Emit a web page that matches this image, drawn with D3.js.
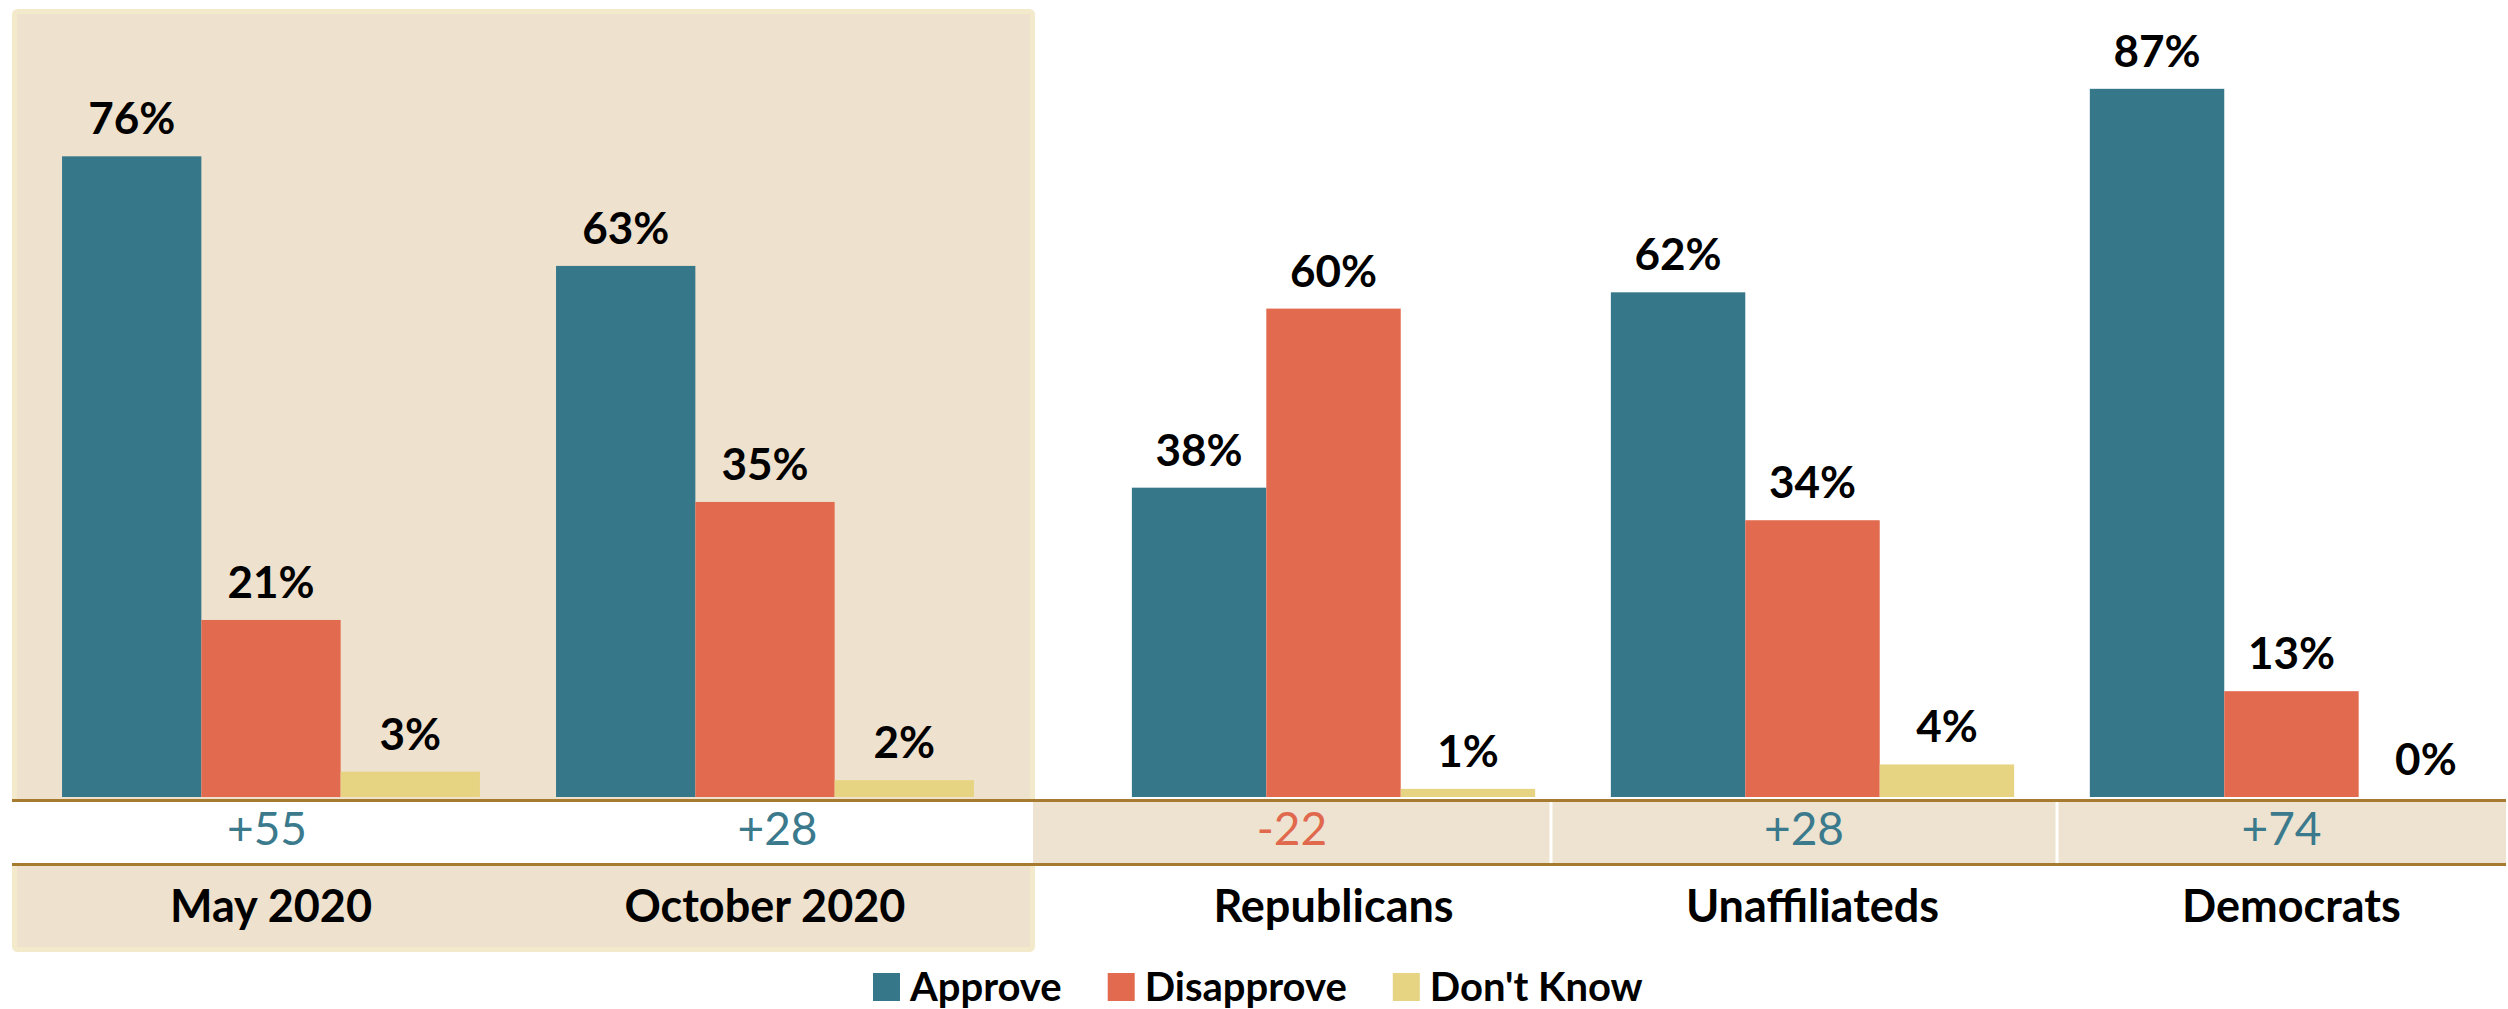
<!DOCTYPE html>
<html>
<head>
<meta charset="utf-8">
<script src="https://cdn.jsdelivr.net/npm/d3@7"></script>
<style>
  html, body { margin: 0; padding: 0; background: #ffffff; }
  svg { display: block; font-family: Lato, "Open Sans", sans-serif; }
</style>
</head>
<body>
<svg id="chart" width="2508" height="1009"></svg>
<script>
// ---- data ----
const categories = ["May 2020", "October 2020", "Republicans", "Unaffiliateds", "Democrats"];
const leftCategories = ["May 2020", "October 2020"];
const rightCategories = ["Republicans", "Unaffiliateds", "Democrats"];
const seriesNames = ["Approve", "Disapprove", "Don't Know"];
const approve = [76, 63, 38, 62, 87];
const disapprove = [21, 35, 60, 34, 13];
const dontKnow = [3, 2, 1, 4, 0];

// ---- style / layout ----
const colors = { "Approve": "#37778A", "Disapprove": "#E26A4E", "Don't Know": "#E7D483" };
const netPos = "#3A7A8C", netNeg = "#E0684D";
const lineColor = "#A67B2F";
const baseline = 797;

const svg = d3.select("#chart");

const rows = categories.map((c, i) => ({
  cat: c,
  values: [
    { s: "Approve", v: approve[i] },
    { s: "Disapprove", v: disapprove[i] },
    { s: "Don't Know", v: dontKnow[i] }
  ],
  net: approve[i] - disapprove[i]
}));

// left (time) panel background
svg.append("rect")
  .attr("x", 14.5).attr("y", 11.5).attr("width", 1018).attr("height", 938)
  .attr("rx", 3)
  .attr("fill", "#EEE1CD").attr("stroke", "#F3EACB").attr("stroke-width", 5);

// scales
const xLeft = d3.scaleBand().domain(leftCategories).range([24, 1012]).paddingInner(0.154).paddingOuter(0.077);
const xRight = d3.scaleBand().domain(rightCategories).range([1095, 2530]).paddingInner(0.158).paddingOuter(0.077);
const yLeft = d3.scaleLinear().domain([0, 90]).range([baseline, baseline - 90 * 8.43]);
const yRight = d3.scaleLinear().domain([0, 90]).range([baseline, baseline - 90 * 8.14]);

function drawGroup(x, y, cats) {
  const xs = d3.scaleBand().domain(seriesNames).range([0, x.bandwidth()]);
  const g = svg.append("g");
  const grp = g.selectAll("g.grp").data(rows.filter(r => cats.includes(r.cat))).join("g")
    .attr("transform", d => `translate(${x(d.cat)},0)`);
  grp.selectAll("rect").data(d => d.values).join("rect")
    .attr("x", d => xs(d.s))
    .attr("y", d => y(d.v))
    .attr("width", xs.bandwidth())
    .attr("height", d => y(0) - y(d.v))
    .attr("fill", d => colors[d.s]);
  grp.selectAll("text.val").data(d => d.values).join("text")
    .attr("class", "val")
    .attr("x", d => xs(d.s) + xs.bandwidth() / 2)
    .attr("y", d => y(d.v) - 22)
    .attr("text-anchor", "middle")
    .attr("font-size", 44).attr("font-weight", 700).attr("fill", "#000")
    .text(d => d.v + "%");
  // category labels
  g.selectAll("text.cat").data(cats).join("text")
    .attr("class", "cat")
    .attr("x", d => x(d) + x.bandwidth() / 2)
    .attr("y", 922)
    .attr("text-anchor", "middle")
    .attr("font-size", 45).attr("font-weight", 700).attr("fill", "#000")
    .text(d => d);
}
drawGroup(xLeft, yLeft, leftCategories);
drawGroup(xRight, yRight, rightCategories);

// net-difference table row
const cellEdges = [12, 522, 1033, 1551, 2057, 2506];
const cells = rows.map((r, i) => ({ ...r, x0: cellEdges[i], x1: cellEdges[i + 1], i }));
svg.append("g").selectAll("rect").data(cells).join("rect")
  .attr("x", d => d.x0)
  .attr("y", 801)
  .attr("width", d => d.x1 - d.x0)
  .attr("height", 63)
  .attr("fill", d => d.i < 2 ? "#FFFFFF" : "#EDE3D0");
// white separators for right cells
svg.append("g").selectAll("line").data([1551, 2057]).join("line")
  .attr("x1", d => d).attr("x2", d => d).attr("y1", 801).attr("y2", 864)
  .attr("stroke", "#FFFFFF").attr("stroke-width", 3);
svg.append("g").selectAll("text").data(cells).join("text")
  .attr("x", d => (d.x0 + d.x1) / 2)
  .attr("y", 845)
  .attr("text-anchor", "middle")
  .attr("font-size", 46)
  .attr("fill", d => d.net >= 0 ? netPos : netNeg)
  .text(d => (d.net >= 0 ? "+" : "") + d.net);
svg.append("g").selectAll("line").data([800.5, 864.5]).join("line")
  .attr("x1", 12).attr("x2", 2506).attr("y1", d => d).attr("y2", d => d)
  .attr("stroke", lineColor).attr("stroke-width", 3);

// legend
const legend = svg.append("g");
let lx = 873;
seriesNames.forEach(s => {
  legend.append("rect").attr("x", lx).attr("y", 973).attr("width", 27).attr("height", 28).attr("fill", colors[s]);
  const t = legend.append("text").attr("x", lx + 37).attr("y", 1001)
    .attr("font-size", 40).attr("font-weight", 700).attr("fill", "#000").text(s);
  lx += 37 + t.node().getComputedTextLength() + 46;
});
</script>
</body>
</html>
